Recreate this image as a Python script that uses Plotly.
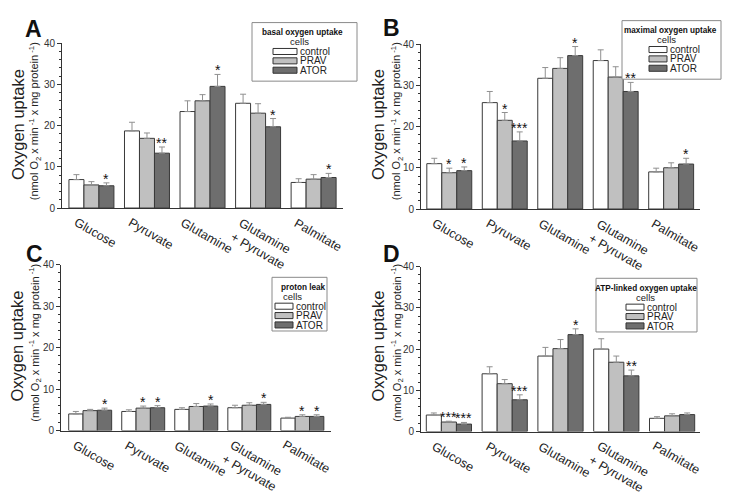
import plotly.graph_objects as go

W, H = 729, 499

categories = ["Glucose", "Pyruvate", "Glutamine", "Glutamine<br>+ Pyruvate", "Palmitate"]
groups = ["control", "PRAV", "ATOR"]
group_colors = ["#ffffff", "#c0c0c0", "#6e6e6e"]

# Panel A - basal oxygen uptake
basal_control = [6.9, 18.7, 23.4, 25.4, 6.2]
basal_control_err = [1.2, 2.1, 2.6, 2.2, 0.9]
basal_prav = [5.6, 16.9, 26.0, 23.0, 7.0]
basal_prav_err = [0.8, 1.3, 1.5, 2.3, 1.1]
basal_ator = [5.4, 13.3, 29.5, 19.7, 7.4]
basal_ator_err = [0.7, 1.5, 2.9, 2.0, 1.0]
basal_sig_control = ["", "", "", "", ""]
basal_sig_prav = ["", "", "", "", ""]
basal_sig_ator = ["*", "**", "*", "*", "*"]

# Panel B - maximal oxygen uptake
max_control = [11.0, 25.8, 31.7, 36.0, 9.0]
max_control_err = [1.3, 2.7, 2.6, 2.6, 0.9]
max_prav = [8.8, 21.5, 34.1, 32.0, 10.0]
max_prav_err = [1.1, 1.9, 2.6, 2.5, 1.2]
max_ator = [9.3, 16.5, 37.2, 28.5, 10.9]
max_ator_err = [0.9, 2.2, 2.2, 2.2, 1.4]
max_sig_control = ["", "", "", "", ""]
max_sig_prav = ["*", "*", "", "", ""]
max_sig_ator = ["*", "***", "*", "**", "*"]

# Panel C - proton leak
leak_control = [4.0, 4.6, 5.1, 5.5, 3.0]
leak_control_err = [0.6, 0.4, 0.4, 0.6, 0.2]
leak_prav = [4.8, 5.4, 5.8, 6.1, 3.4]
leak_prav_err = [0.3, 0.5, 0.7, 0.6, 0.4]
leak_ator = [4.9, 5.5, 5.9, 6.3, 3.4]
leak_ator_err = [0.5, 0.5, 0.5, 0.5, 0.4]
leak_sig_control = ["", "", "", "", ""]
leak_sig_prav = ["", "*", "", "", "*"]
leak_sig_ator = ["*", "*", "*", "*", "*"]

# Panel D - ATP-linked oxygen uptake
atp_control = [4.0, 14.0, 18.3, 20.0, 3.2]
atp_control_err = [0.5, 1.7, 2.1, 2.5, 0.4]
atp_prav = [2.3, 11.6, 20.1, 16.8, 3.8]
atp_prav_err = [0.2, 1.0, 2.2, 1.5, 0.5]
atp_ator = [1.8, 7.7, 23.5, 13.5, 4.1]
atp_ator_err = [0.4, 1.2, 1.4, 1.4, 0.4]
atp_sig_control = ["", "", "", "", ""]
atp_sig_prav = ["***", "", "", "", ""]
atp_sig_ator = ["***", "***", "*", "**", ""]

y_ticks = [0, 10, 20, 30, 40]

panels = [
    dict(letter="A", title="basal oxygen uptake",
         vals=[basal_control, basal_prav, basal_ator],
         errs=[basal_control_err, basal_prav_err, basal_ator_err],
         sigs=[basal_sig_control, basal_sig_prav, basal_sig_ator],
         dom_px=(62, 342.5, 38, 207), xr=(-0.53, 4.52),
         letter_pos=(33, 24), ytitle_x=(18, 35), ytitle_y=122,
         leg=(252, 17, 357, 77, 273, 297, 302, 299)),
    dict(letter="B", title="maximal oxygen uptake",
         vals=[max_control, max_prav, max_ator],
         errs=[max_control_err, max_prav_err, max_ator_err],
         sigs=[max_sig_control, max_sig_prav, max_sig_ator],
         dom_px=(421, 700, 39, 208), xr=(-0.51, 4.52),
         letter_pos=(391, 23), ytitle_x=(378, 397), ytitle_y=122,
         leg=(622, 15, 721, 75, 649, 667, 670, 666)),
    dict(letter="C", title="proton leak",
         vals=[leak_control, leak_prav, leak_ator],
         errs=[leak_control_err, leak_prav_err, leak_ator_err],
         sigs=[leak_sig_control, leak_sig_prav, leak_sig_ator],
         dom_px=(61, 331, 265, 435), xr=(-0.55, 4.54),
         letter_pos=(34, 254), ytitle_x=(17, 35), ytitle_y=349,
         leg=(272, 278, 327, 333, 275, 293, 303, 292)),
    dict(letter="D", title="ATP-linked oxygen uptake",
         vals=[atp_control, atp_prav, atp_ator],
         errs=[atp_control_err, atp_prav_err, atp_ator_err],
         sigs=[atp_sig_control, atp_sig_prav, atp_sig_ator],
         dom_px=(421, 700, 267, 436), xr=(-0.50, 4.50),
         letter_pos=(391, 254), ytitle_x=(378, 397), ytitle_y=349,
         leg=(596, 279, 697, 334, 626, 644, 646, 645)),
]

FONT = "Arial, Liberation Sans, sans-serif"
BARGAP = 0.19
bar_w = (1 - BARGAP) / 3


def px(x):
    return x / W


def py(y):
    return 1 - y / H


fig = go.Figure()
annotations = []
shapes = []
layout = {}
xpos = list(range(len(categories)))

for k, p in enumerate(panels):
    n = "" if k == 0 else str(k + 1)
    xa, ya = "x" + n, "y" + n
    for gi, g in enumerate(groups):
        fig.add_trace(go.Bar(
            x=xpos, y=p["vals"][gi], name=g, xaxis=xa, yaxis=ya,
            marker=dict(color=group_colors[gi], line=dict(color="#3a3a3a", width=1)),
            error_y=dict(type="data", array=p["errs"][gi], symmetric=False,
                         arrayminus=[0] * len(categories),
                         color="#909090", thickness=1, width=3),
            showlegend=False, hoverinfo="skip",
        ))
        for ci in range(len(categories)):
            s = p["sigs"][gi][ci]
            if s:
                annotations.append(dict(
                    x=ci + (gi - 1) * bar_w, y=p["vals"][gi][ci] + p["errs"][gi][ci],
                    xref=xa, yref=ya, text=s, showarrow=False,
                    xanchor="center", yanchor="bottom", yshift=-6,
                    font=dict(family=FONT, size=14, color="#111111")))
    x0, x1, y0, y1 = p["dom_px"]
    layout["xaxis" + n] = dict(
        domain=[px(x0), px(x1)], range=list(p["xr"]), anchor=ya,
        showline=True, linecolor="#333333", linewidth=1, ticks="",
        showticklabels=False, showgrid=False, zeroline=False, fixedrange=True)
    layout["yaxis" + n] = dict(
        domain=[py(y1), py(y0)], range=[0, 40], anchor=xa,
        tickvals=y_ticks, ticktext=[str(t) for t in y_ticks],
        showline=True, linecolor="#333333", linewidth=1,
        ticks="outside", ticklen=4, tickcolor="#333333", tickwidth=1,
        minor=dict(dtick=2, ticks="outside", ticklen=2, tickcolor="#333333"),
        tickfont=dict(family=FONT, size=10, color="#333333"),
        showgrid=False, zeroline=False, fixedrange=True)
    # category labels
    for ci, c in enumerate(categories):
        annotations.append(dict(
            x=ci, y=py(y1), xref=xa, yref="paper", text=c, showarrow=False,
            textangle=30, xanchor="center", yanchor="top", yshift=-5, xshift=4,
            align="left",
            font=dict(family=FONT, size=12.5, color="#222222")))
    # panel letter
    lx, ly = p["letter_pos"]
    annotations.append(dict(
        x=px(lx), y=py(ly), xref="paper", yref="paper", text="<b>" + p["letter"] + "</b>",
        showarrow=False, xanchor="center", yanchor="middle",
        font=dict(family=FONT, size=23, color="#111111")))
    # y axis titles
    t1, t2 = p["ytitle_x"]
    annotations.append(dict(
        x=px(t1), y=py(p["ytitle_y"]), xref="paper", yref="paper",
        text="Oxygen uptake", textangle=-90, showarrow=False,
        xanchor="center", yanchor="middle",
        font=dict(family=FONT, size=16.5, color="#222222")))
    annotations.append(dict(
        x=px(t2), y=py(p["ytitle_y"] - 4), xref="paper", yref="paper",
        text="(nmol O<sub>2</sub> x min<sup> -1</sup> x mg protein<sup> -1</sup>)",
        textangle=-90, showarrow=False, xanchor="center", yanchor="middle",
        font=dict(family=FONT, size=11, color="#222222")))
    # manual legend box
    bx0, by0, bx1, by1, sx0, sx1, tcx, ccx = p["leg"]
    shapes.append(dict(type="rect", xref="paper", yref="paper",
                       x0=px(bx0), x1=px(bx1), y0=py(by1), y1=py(by0),
                       line=dict(color="#8a8a8a", width=1), fillcolor="white", layer="above"))
    annotations.append(dict(
        x=px(tcx), y=py(by0 + 10), xref="paper", yref="paper",
        text="<b>" + p["title"] + "</b>", showarrow=False,
        xanchor="center", yanchor="middle",
        font=dict(family=FONT, size=8.2, color="#111111")))
    annotations.append(dict(
        x=px(ccx), y=py(by0 + 19.5), xref="paper", yref="paper",
        text="cells", showarrow=False, xanchor="center", yanchor="middle",
        font=dict(family=FONT, size=9.5, color="#222222")))
    for gi, g in enumerate(groups):
        top = by0 + 26.5 + gi * 9.6
        shapes.append(dict(type="rect", xref="paper", yref="paper",
                           x0=px(sx0), x1=px(sx1), y0=py(top + 6.2), y1=py(top),
                           line=dict(color="#333333", width=1),
                           fillcolor=group_colors[gi], layer="above"))
        annotations.append(dict(
            x=px(sx1 + 1), y=py(top + 3.2), xref="paper", yref="paper",
            text=g, showarrow=False, xanchor="left", yanchor="middle",
            font=dict(family=FONT, size=10, color="#222222")))

fig.update_layout(
    width=W, height=H, margin=dict(l=0, r=0, t=0, b=0),
    paper_bgcolor="white", plot_bgcolor="white",
    barmode="group", bargap=BARGAP, bargroupgap=0,
    showlegend=False, annotations=annotations, shapes=shapes,
    font=dict(family=FONT),
    **layout,
)

fig.write_html(
    "out.html",
    config={"displayModeBar": False},
    post_script="document.body.style.margin='0';document.body.style.overflow='hidden';",
)
